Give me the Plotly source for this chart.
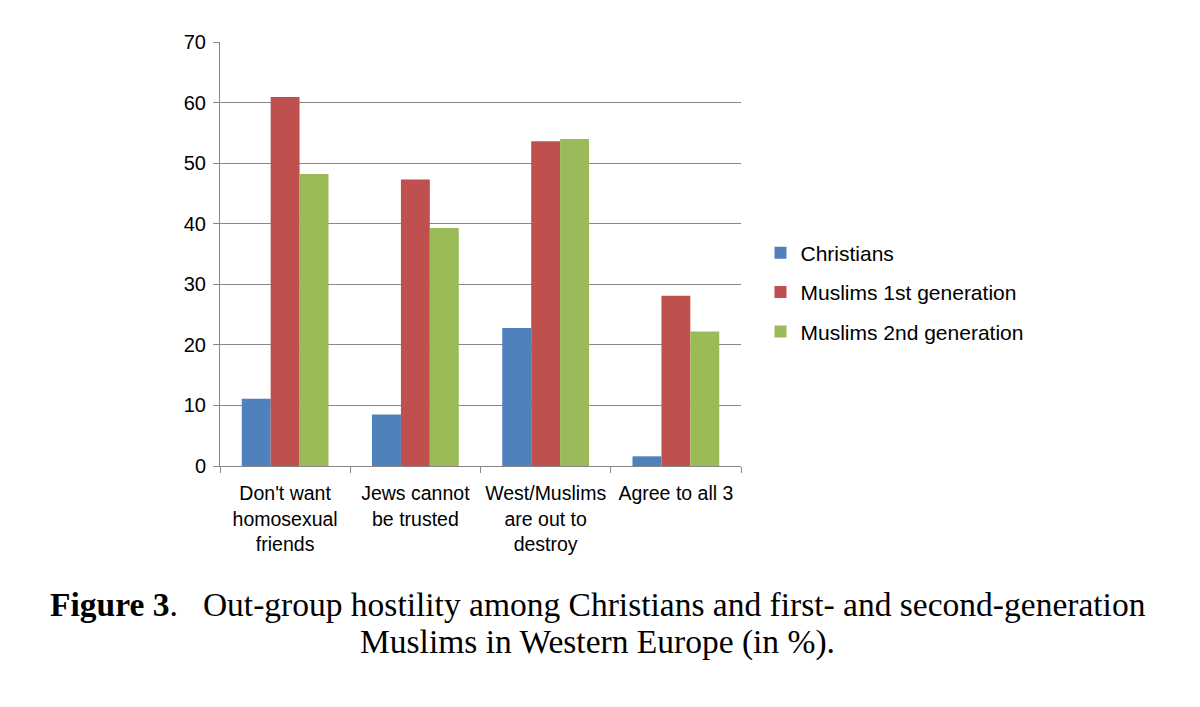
import plotly.graph_objects as go

categories = [
    "Don't want<br>homosexual<br>friends",
    "Jews cannot<br>be trusted",
    "West/Muslims<br>are out to<br>destroy",
    "Agree to all 3",
]
christians = [11.1, 8.5, 22.8, 1.6]
muslims_1st = [60.9, 47.3, 53.6, 28.1]
muslims_2nd = [48.2, 39.3, 54.0, 22.2]

y_ticks = [0, 10, 20, 30, 40, 50, 60, 70]

series = [
    ("Christians", christians, "#4F81BD"),
    ("Muslims 1st generation", muslims_1st, "#C0504D"),
    ("Muslims 2nd generation", muslims_2nd, "#9BBB59"),
]

fig = go.Figure()
for name, vals, color in series:
    fig.add_trace(go.Bar(
        x=categories,
        y=vals,
        name=name,
        legendgroup=name,
        marker=dict(color=color, line=dict(width=0)),
    ))

# caption below chart, two centered lines (separate so line spacing can be set)
caption_lines = [
    "<b>Figure 3</b>.   Out-group hostility among Christians and first- and second-generation",
    "Muslims in Western Europe (in %).",
]
for line, ypos in zip(caption_lines, [-0.326, -0.415]):
    fig.add_annotation(
        text=line,
        xref="paper", yref="paper",
        x=0.7255, y=ypos,
        xanchor="center", yanchor="middle",
        showarrow=False,
        font=dict(family="Liberation Serif", size=33.5, color="black"),
    )

fig.update_layout(
    width=1200,
    height=707,
    barmode="group",
    bargap=0.334,
    bargroupgap=0,
    plot_bgcolor="white",
    paper_bgcolor="white",
    margin=dict(l=212, r=467, t=34, b=249),
    font=dict(family="Liberation Sans", size=19.5, color="black"),
    legend=dict(
        x=1.0374, y=0.41,
        xanchor="left", yanchor="middle",
        font=dict(size=21),
        tracegroupgap=9,
        itemwidth=30,
    ),
    showlegend=True,
)

fig.update_xaxes(
    showline=True, linecolor="#888888", linewidth=1,
    ticks="outside", tickson="boundaries", ticklen=6, tickcolor="#888888",
    ticklabelstandoff=10,
    showgrid=False,
)
fig.update_yaxes(
    range=[0, 70],
    tickvals=y_ticks,
    showline=True, linecolor="#888888", linewidth=1,
    ticks="outside", ticklen=6, tickcolor="#888888",
    ticklabelstandoff=3,
    showgrid=True, gridcolor="#888888", gridwidth=1,
    tickfont=dict(size=20),
    zeroline=False,
)

fig.write_html("out.html")
